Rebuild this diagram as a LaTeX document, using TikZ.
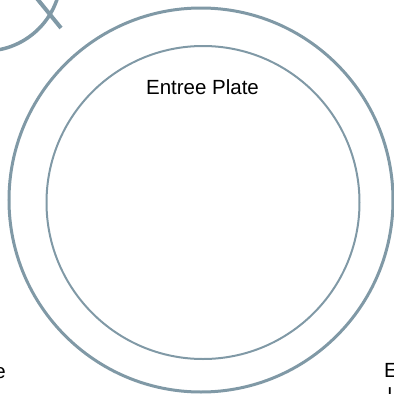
\documentclass[tikz,border=0pt]{standalone}
\usepackage{fontspec}
\setmainfont{Liberation Sans}
\definecolor{platec}{RGB}{128,153,166}
\begin{document}
\begin{tikzpicture}[x=1pt,y=-1pt,
  ring/.style={circle,draw=platec,inner sep=0pt},
  lbl/.style={font=\fontsize{20.5}{24}\selectfont,inner sep=0pt,text=black}]
\useasboundingbox (0,0) rectangle (394,394);
\clip (0,0) rectangle (394,394);
\node[ring,line width=3pt,minimum size=384pt] (outer) at (201,200) {};
\node[ring,line width=2pt,minimum size=313pt] (inner) at (203,202.5) {};
\node[ring,line width=3.5pt,minimum size=152pt] (glass) at (-15,-25) {};
\coordinate (k1) at (30,-10);
\coordinate (k2) at (61,28);
\draw[platec,line width=4pt] (k1) -- (k2);
\node[lbl,anchor=base] (title) at (202.5,94) {Entree Plate};
\node[lbl,anchor=base east] (left) at (6,378) {e};
\node[lbl,anchor=base west] (right1) at (384,377) {E};
\node[lbl,anchor=base west] (right2) at (387.5,402) {l};
\end{tikzpicture}
\end{document}
